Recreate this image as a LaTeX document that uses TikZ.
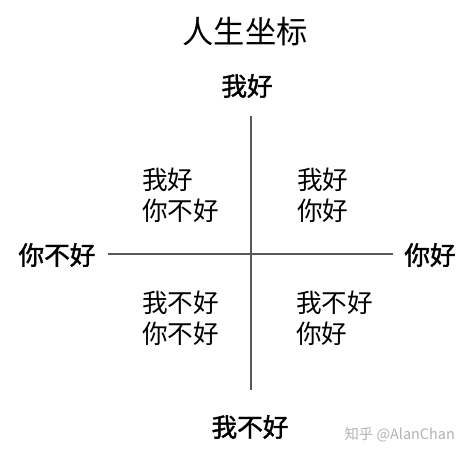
\documentclass[tikz,border=0pt]{standalone}
\usepackage{fontspec}
\newfontfamily\cjk{Noto Sans CJK SC}
\newfontfamily\cjkbold[FakeBold=1.6]{Noto Sans CJK SC}
\setmainfont{Liberation Sans}

\begin{document}
\begin{tikzpicture}[%
        x = 0.02cm, y = -0.02cm,
        axis/.style = {draw = black!65, line width = 0.85pt},
        title/.style = {font = \cjk\fontsize{17.8}{20}\selectfont},
        pole/.style = {font = \cjkbold\fontsize{14.6}{17}\selectfont},
        quad/.style = {align = left, anchor = west,
            font = \cjk\fontsize{14.6}{17.6}\selectfont},
        mark_text/.style = {text = black!30, anchor = east,
            font = \cjk\fontsize{8.2}{9}\selectfont}
    ]
        \useasboundingbox (0, 0) rectangle (472, 457);

        \node[title] (T) at (245, 32) {人生坐标};

        % Ends of the two axes.
        \coordinate (N) at (251, 116);
        \coordinate (S) at (251, 390);
        \coordinate (W) at (108, 254);
        \coordinate (E) at (393, 254);
        \draw[axis] (N) to (S);
        \draw[axis] (W) to (E);

        \node[pole] (Top) at (247, 86) {我好};
        \node[pole] (Bottom) at (250, 427) {我不好};
        \node[pole] (Left) at (57, 255) {你不好};
        \node[pole] (Right) at (430, 255) {你好};

        \node[quad] (Q2) at (136, 195) {我好\\你不好};
        \node[quad] (Q1) at (291, 195) {我好\\你好};
        \node[quad] (Q3) at (136, 318) {我不好\\你不好};
        \node[quad] (Q4) at (290, 318) {我不好\\你好};

        \node[mark_text] (M) at (461, 435) {知乎 @AlanChan};
    \end{tikzpicture}
\end{document}
